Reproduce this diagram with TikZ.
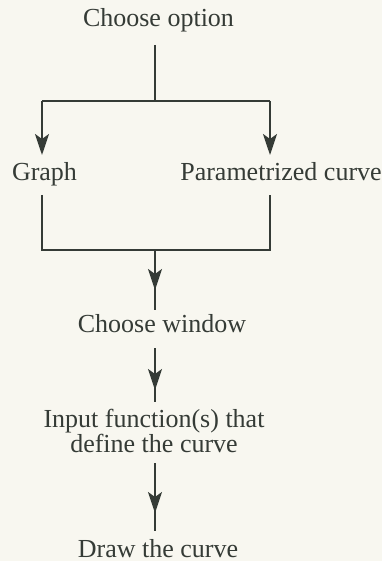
\documentclass[tikz,border=0pt]{standalone}
\usepackage{fontspec}
\setmainfont{Liberation Serif}
\usetikzlibrary{arrows.meta}
\definecolor{ink}{HTML}{353B36}
\definecolor{paper}{HTML}{F8F7F0}
\begin{document}
\begin{tikzpicture}[x=0.5pt,y=-0.5pt,
  lbl/.style={anchor=base,inner sep=0pt,text=ink,font=\fontsize{13}{12.5}\selectfont,align=center},
  conn/.style={draw=ink,line width=1pt},
  arr/.style={conn,-{Stealth[length=10.5pt,width=7pt,inset=2.5pt]}}]
\fill[paper] (0,0) rectangle (382,561);
\useasboundingbox (0,0) rectangle (382,561);
\node[lbl] (opt) at (158.5,27) {Choose option};
\node[lbl] (graph) at (44.5,181) {Graph};
\node[lbl] (param) at (281,181) {Parametrized curve};
\node[lbl] (win) at (162,332) {Choose window};
\node[lbl] (inp) at (154,452) {Input function(s) that\\define the curve};
\node[lbl] (drw) at (158,557) {Draw the curve};
% coordinates
\coordinate (t0) at (155,45);
\coordinate (t1) at (155,101);
\coordinate (gl) at (42,101);
\coordinate (gr) at (270,101);
\coordinate (gt) at (42,155);
\coordinate (pt) at (270,155);
\coordinate (gb) at (42,195);
\coordinate (pb) at (270,195);
\coordinate (gj) at (42,250);
\coordinate (pj) at (270,250);
\coordinate (m0) at (155,250);
\coordinate (m1) at (155,290);
\coordinate (m2) at (155,310);
\coordinate (w0) at (155,348);
\coordinate (w1) at (155,390);
\coordinate (w2) at (155,402);
\coordinate (i0) at (155,463);
\coordinate (i1) at (155,513);
\coordinate (i2) at (155,531);
\draw[conn] (t0) -- (t1);
\draw[conn] (gl) -- (gr);
\draw[arr] (gl) -- (gt);
\draw[arr] (gr) -- (pt);
\draw[conn] (gb) -- (gj) -- (pj) -- (pb);
\draw[conn] (m0) -- (m2);
\draw[arr] (m0) -- (m1);
\draw[conn] (w0) -- (w2);
\draw[arr] (w0) -- (w1);
\draw[conn] (i0) -- (i2);
\draw[arr] (i0) -- (i1);
\end{tikzpicture}
\end{document}
